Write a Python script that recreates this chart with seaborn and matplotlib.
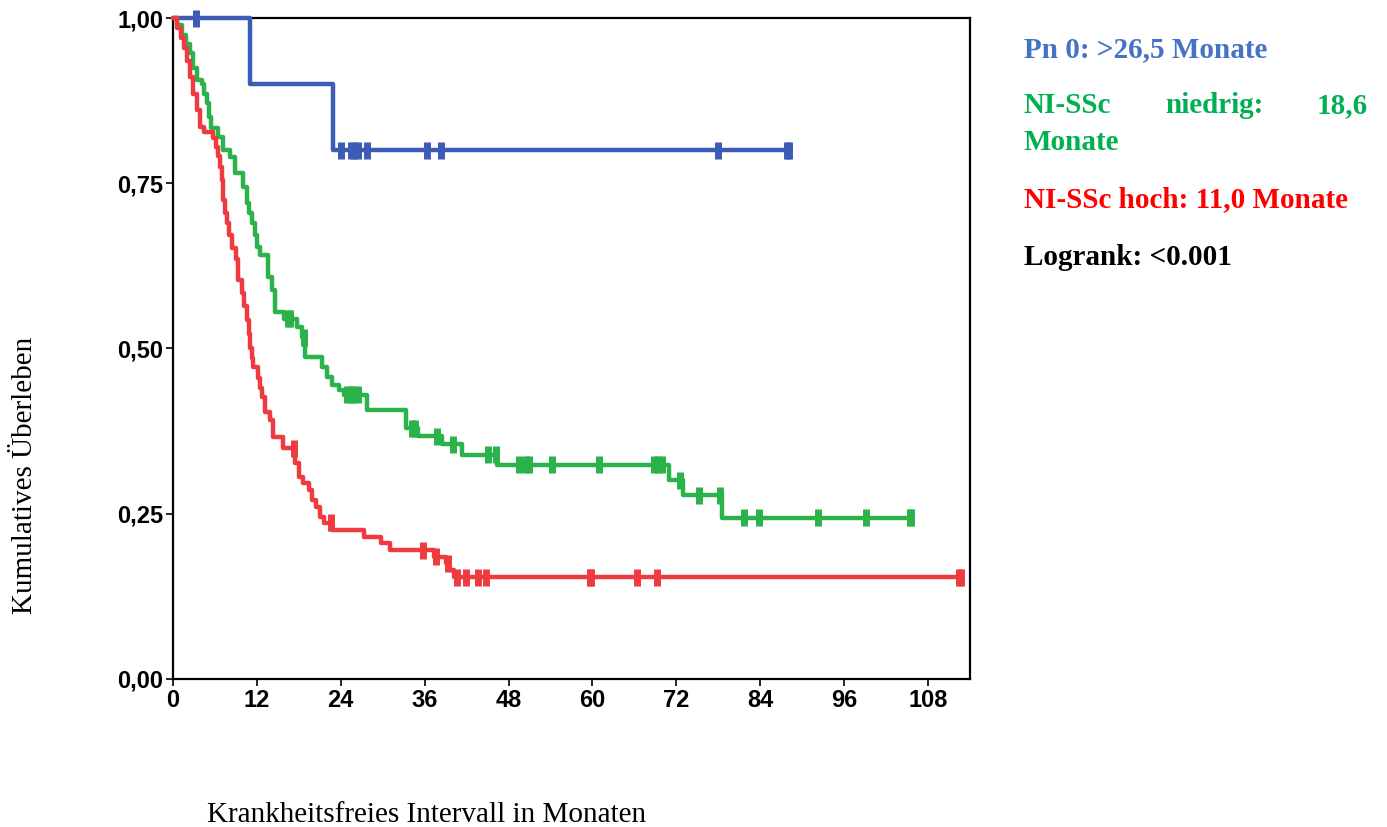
import numpy as np
import pandas as pd
import matplotlib
matplotlib.use("Agg")
import matplotlib.pyplot as plt
import seaborn as sns

# ---------------- data ----------------
blue_t = [0, 11.05, 22.96, 88.1]
blue_s = [1.0, 0.90, 0.80, 0.80]
blue_cens = [3.3, 24.0, 25.4, 25.9, 26.4, 27.8, 36.4, 38.3, 77.9, 87.8, 88.1]

green_t = [0, 0.6, 1.25, 1.8, 2.44, 2.9, 3.4, 4.1, 4.5, 4.8, 5.2, 5.5, 6.4, 7.2,
           8.2, 8.9, 10.0, 10.6, 10.9, 11.3, 11.7, 12.0, 12.5, 13.6, 14.2, 14.6,
           15.9, 17.7, 18.5, 18.9, 21.3, 22.0, 22.8, 23.7, 24.4, 27.8, 33.4,
           35.0, 38.5, 41.4, 46.3, 71.0, 73.0, 78.6, 105.6]
green_s = [1.0, 0.99, 0.975, 0.96, 0.947, 0.925, 0.906, 0.90, 0.885, 0.871, 0.85,
           0.833, 0.82, 0.80, 0.79, 0.765, 0.745, 0.72, 0.705, 0.69, 0.672, 0.654,
           0.641, 0.608, 0.588, 0.555, 0.545, 0.532, 0.517, 0.487, 0.472, 0.457,
           0.445, 0.437, 0.43, 0.407, 0.379, 0.367, 0.355, 0.339, 0.324, 0.301,
           0.278, 0.244, 0.244]
green_cens = [16.4, 16.8, 18.8, 24.9, 25.4, 25.8, 26.4, 34.2, 34.6, 37.8, 40.0,
              45.1, 46.2, 49.5, 50.5, 51.0, 54.2, 60.9, 68.8, 69.4, 69.9, 72.5,
              75.2, 78.3, 81.7, 83.8, 92.3, 99.2, 105.4, 105.6]

red_t = [0, 0.6, 1.1, 1.6, 2.0, 2.4, 2.9, 3.4, 3.9, 4.4, 5.7, 6.1, 6.5, 6.8, 7.0,
         7.2, 7.5, 7.7, 8.0, 8.4, 9.0, 9.3, 9.85, 10.2, 10.6, 10.85, 11.05, 11.3,
         11.5, 12.2, 12.5, 12.7, 13.2, 13.9, 14.35, 15.7, 17.5, 18.0, 18.65, 19.4,
         19.9, 20.4, 21.1, 21.6, 22.8, 27.3, 29.7, 31.1, 37.3, 39.0, 39.5, 40.2,
         112.7]
red_s = [1.0, 0.985, 0.97, 0.955, 0.935, 0.911, 0.885, 0.861, 0.835, 0.828, 0.818,
         0.805, 0.792, 0.775, 0.755, 0.725, 0.705, 0.69, 0.672, 0.652, 0.635, 0.604,
         0.584, 0.565, 0.543, 0.522, 0.50, 0.485, 0.472, 0.455, 0.44, 0.427, 0.404,
         0.392, 0.366, 0.349, 0.327, 0.306, 0.296, 0.286, 0.271, 0.26, 0.245, 0.236,
         0.225, 0.215, 0.205, 0.195, 0.185, 0.175, 0.165, 0.154, 0.154]
red_cens = [17.3, 22.6, 35.7, 37.6, 39.3, 40.7, 41.9, 43.6, 44.8, 59.6, 59.8,
            66.4, 69.2, 112.5, 112.7]

groups = ["Pn 0", "NI-SSc niedrig", "NI-SSc hoch"]
line_colors = ["#3d5cb8", "#2cb24a", "#ef3b40"]
text_colors = ["#4472c4", "#00b050", "#ff0000"]

x_ticks = [0, 12, 24, 36, 48, 60, 72, 84, 96, 108]
y_ticks = [0.0, 0.25, 0.50, 0.75, 1.0]
y_ticklabels = ["0,00", "0,25", "0,50", "0,75", "1,00"]

# ---------------- build tables ----------------
curves = {"Pn 0": (blue_t, blue_s, blue_cens),
          "NI-SSc niedrig": (green_t, green_s, green_cens),
          "NI-SSc hoch": (red_t, red_s, red_cens)}

line_rows, cens_rows = [], []
for g, (t, s, c) in curves.items():
    for ti, si in zip(t, s):
        line_rows.append((g, ti, si))
    t_arr, s_arr = np.asarray(t), np.asarray(s)
    for ci in c:
        idx = np.searchsorted(t_arr, ci, side="right") - 1
        cens_rows.append((g, ci, s_arr[idx]))
lines = pd.DataFrame(line_rows, columns=["g", "t", "s"])
cens = pd.DataFrame(cens_rows, columns=["g", "t", "s"])

# ---------------- plot ----------------
sns.set_theme(style="white")
plt.rcParams["font.family"] = ["Liberation Sans", "DejaVu Sans"]

fig = plt.figure(figsize=(13.87, 8.27), dpi=100)
ax = fig.add_axes([0.1247, 0.179, 0.5746, 0.7992])

pal = dict(zip(groups, line_colors))
sns.lineplot(data=lines, x="t", y="s", hue="g", hue_order=groups, palette=pal,
             drawstyle="steps-post", estimator=None, sort=False, linewidth=3.2,
             legend=False, ax=ax, clip_on=False, zorder=3)
sns.scatterplot(data=cens, x="t", y="s", hue="g", hue_order=groups, palette=pal,
                marker="|", s=150, linewidth=5, legend=False, ax=ax,
                clip_on=False, zorder=4)

ax.set_xlim(0, 114)
ax.set_ylim(0, 1.0)
ax.set_xticks(x_ticks)
ax.set_xticklabels([str(v) for v in x_ticks])
ax.set_yticks(y_ticks)
ax.set_yticklabels(y_ticklabels)
ax.set_xlabel("")
ax.set_ylabel("")
for sp in ax.spines.values():
    sp.set_visible(True)
    sp.set_color("black")
    sp.set_linewidth(1.6)
ax.tick_params(axis="both", which="both", direction="out", length=5, width=1.2,
               color="black", left=True, bottom=True, labelsize=17, pad=2)
for lab in ax.get_xticklabels() + ax.get_yticklabels():
    lab.set_fontweight("bold")
    lab.set_color("black")

# axis titles (serif, placed like the reference)
fig.text(25 / 1387, 1 - 475 / 827, "Kumulatives Überleben", rotation=90,
         ha="center", va="center", fontsize=21, family=["Liberation Serif"],
         color="black")
fig.text(427 / 1387, 1 - 815 / 827, "Krankheitsfreies Intervall in Monaten",
         ha="center", va="center", fontsize=21, family=["Liberation Serif"],
         color="black")

# annotations on the right
def rt(x, y, s, color, ha="left"):
    fig.text(x / 1387, 1 - y / 827, s, color=color, ha=ha, va="baseline",
             fontsize=21, fontweight="bold", family=["Liberation Serif"])

rt(1024, 56.7, "Pn 0: >26,5 Monate", text_colors[0])
rt(1024, 113.3, "NI-SSc", text_colors[1])
rt(1165, 113.3, "niedrig:", text_colors[1])
rt(1368, 113.3, "18,6", text_colors[1], ha="right")
rt(1024, 150, "Monate", text_colors[1])
rt(1024, 206.7, "NI-SSc hoch: 11,0 Monate", text_colors[2])
rt(1024, 265, "Logrank: <0.001", "black")

fig.savefig("out.png", dpi=100, facecolor="white")
